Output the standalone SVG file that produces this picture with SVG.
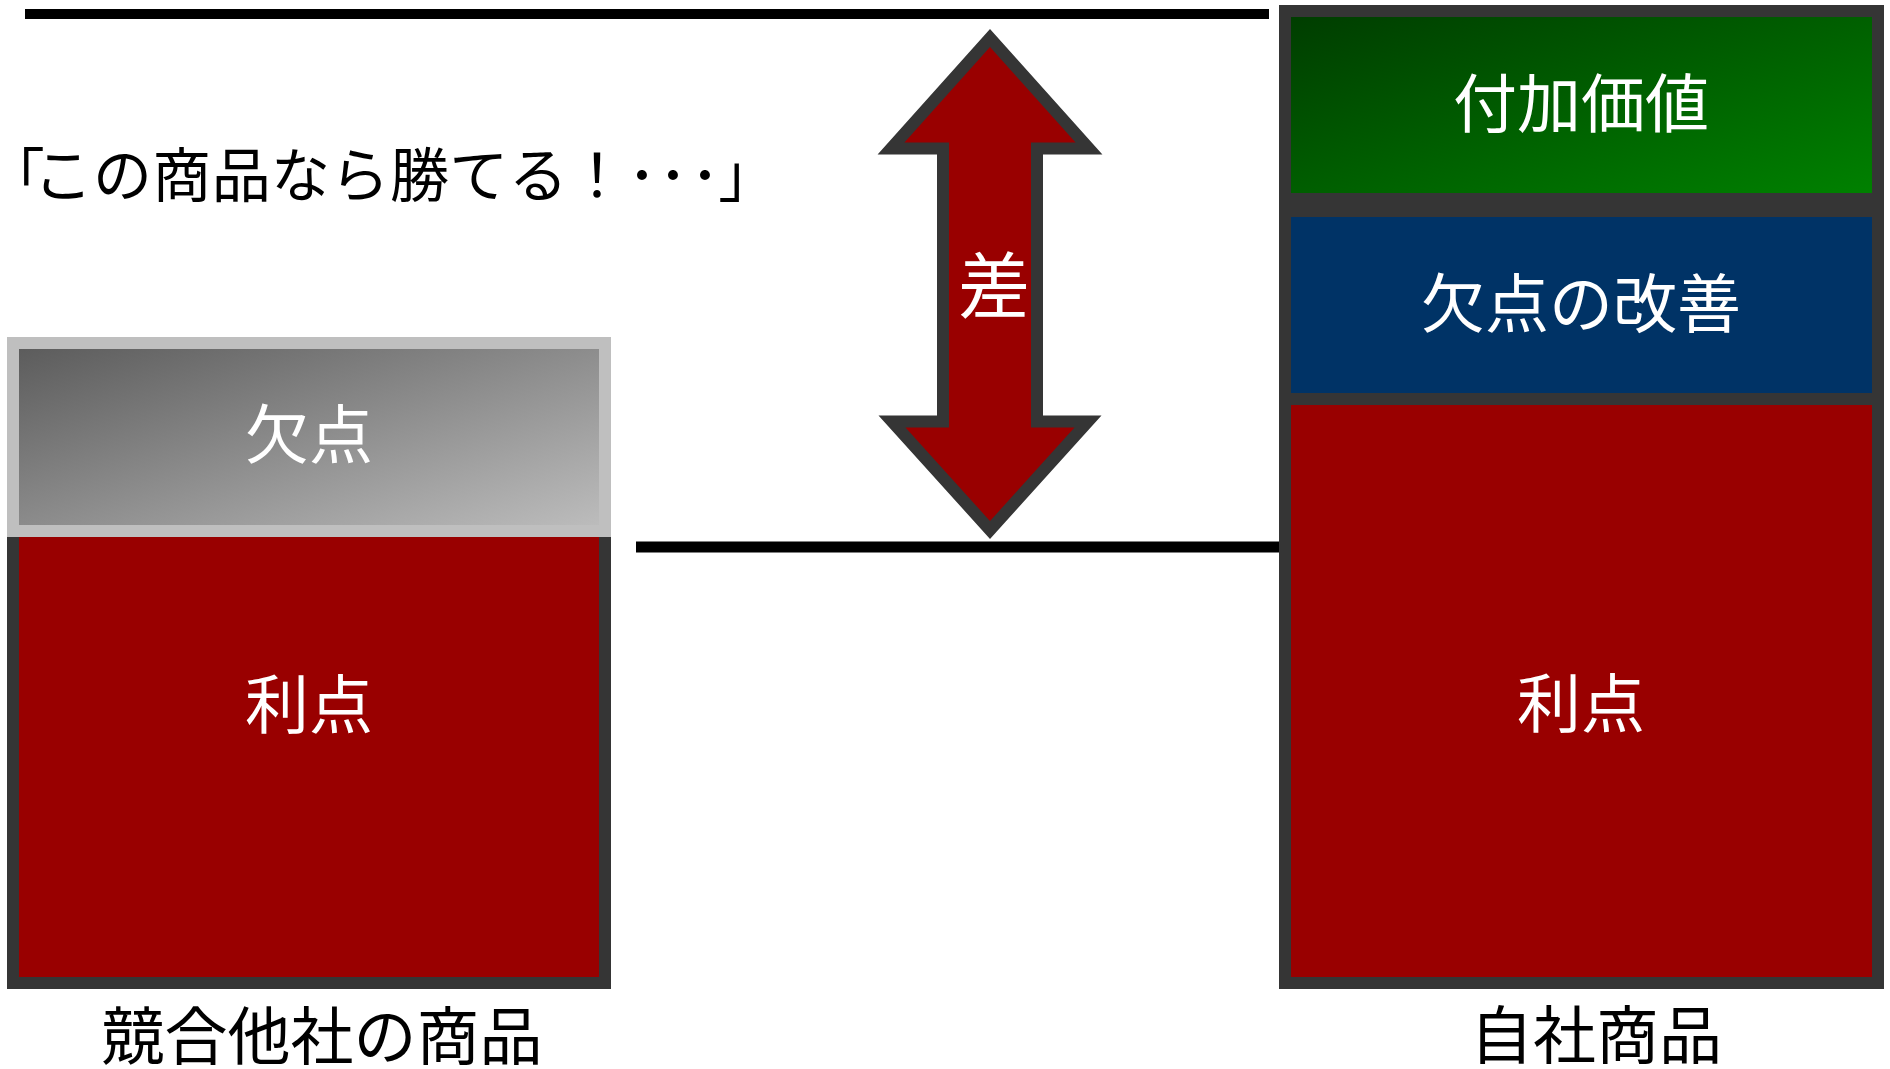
<svg xmlns="http://www.w3.org/2000/svg" width="1890" height="1069" viewBox="0 0 1890 1069">
  <defs>
    <linearGradient id="gGray" x1="0" y1="0" x2="1" y2="1">
      <stop offset="0" stop-color="#5a5a5a"/>
      <stop offset="1" stop-color="#bebebe"/>
    </linearGradient>
    <linearGradient id="gGreen" x1="0" y1="0" x2="1" y2="1">
      <stop offset="0" stop-color="#003c00"/>
      <stop offset="1" stop-color="#008200"/>
    </linearGradient>
    <style>
      .box { stroke: #353535; stroke-width: 12; }
      .red { fill: #990000; }
      .lbl { font-family: "Noto Sans CJK JP", "Noto Sans CJK SC", sans-serif; fill: #ffffff; text-anchor: middle; }
      .cap { font-family: "Noto Sans CJK JP", "Noto Sans CJK SC", sans-serif; fill: #000000; text-anchor: middle; }
      .guide { stroke: #000000; fill: none; }
    </style>
  </defs>
  <rect width="1890" height="1069" fill="#ffffff"/>

  <g id="connectors">
    <line class="guide" x1="25" y1="14" x2="1269" y2="14" stroke-width="10"/>
    <line class="guide" x1="636" y1="547" x2="1281" y2="547" stroke-width="11"/>
  </g>

  <g id="competitor-merit">
    <rect class="box red" x="13" y="531" width="592" height="452"/>
    <text class="lbl" x="309" y="728" font-size="64">利点</text>
  </g>
  <g id="competitor-flaw">
    <rect x="13" y="343" width="592" height="188" fill="url(#gGray)" stroke="#bfbfbf" stroke-width="12"/>
    <text class="lbl" x="309" y="458" font-size="64">欠点</text>
  </g>

  <g id="own-merit">
    <rect class="box red" x="1285" y="399" width="593" height="584"/>
    <text class="lbl" x="1581" y="727" font-size="64">利点</text>
  </g>
  <g id="own-improvement">
    <rect class="box" x="1285" y="211" width="593" height="188" fill="#003366"/>
    <text class="lbl" x="1581" y="327" font-size="64">欠点の改善</text>
  </g>
  <g id="own-added-value">
    <rect class="box" x="1285" y="11" width="593" height="188" fill="url(#gGreen)"/>
    <text class="lbl" x="1581" y="127" font-size="64">付加価値</text>
  </g>

  <g id="diff-arrow">
    <polygon class="box red" stroke-linejoin="miter" points="990,38 1089,148.5 1037,148.5 1037,421.5 1088,421.5 990,530 892,421.5 943,421.5 943,148.5 891,148.5"/>
    <text class="lbl" x="994" y="312" font-size="72">差</text>
  </g>

  <g id="quote">
    <text class="cap" font-size="59" y="197" x="30 63 122.4 181.8 241.2 300.6 360 419.4 478.8 538.2 597 642 673 705 733">｢この商品なら勝てる！･･･｣</text>
  </g>

  <g id="caption-competitor">
    <text class="cap" x="322" y="1059" font-size="63">競合他社の商品</text>
  </g>
  <g id="caption-own">
    <text class="cap" x="1596" y="1058" font-size="63">自社商品</text>
  </g>
</svg>
